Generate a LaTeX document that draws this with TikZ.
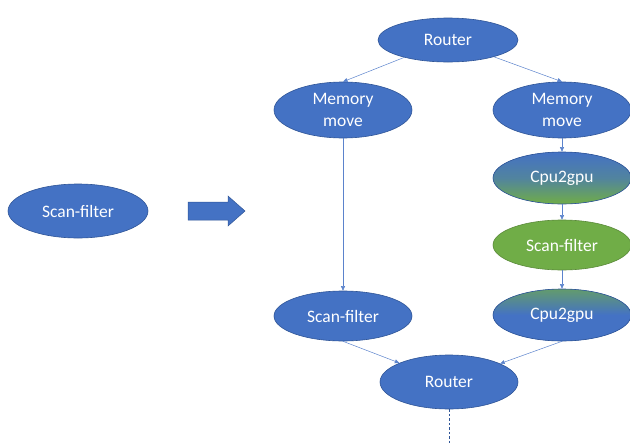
\documentclass[tikz,border=0pt]{standalone}
\usepackage{fontspec}
\setmainfont{Carlito}
\usetikzlibrary{shapes.geometric,arrows.meta}
\definecolor{offblue}{HTML}{4472C4}
\definecolor{offline}{HTML}{2F5597}
\definecolor{offgreen}{HTML}{70AD47}
\definecolor{edgeblue}{HTML}{5B83CC}
\begin{document}
\begin{tikzpicture}[x=1pt,y=-1pt,
  op/.style={ellipse,draw=offline,line width=0.6pt,fill=offblue,text=white,
    minimum width=138pt,minimum height=52pt,inner sep=0pt,align=center,
    font=\fontsize{17.5}{22}\selectfont},
  gop/.style={op,fill=offgreen,draw=offgreen!80!black},
  gdown/.style={op,top color=offblue,bottom color=offgreen,middle color=offblue!70!offgreen},
  gup/.style={op,top color=offgreen!70!offblue,bottom color=offblue,middle color=offblue},
  conn/.style={draw=edgeblue,line width=0.5pt,-{Triangle[length=4.5pt,width=4pt]}}]
\useasboundingbox (0,0) rectangle (630,445);
\node[op,minimum width=140pt,minimum height=44pt] (r1) at (448,40) {Router};
\node[op,minimum height=56pt] (m1) at (343,110) {Memory\\move};
\node[op,minimum height=56pt] (m2) at (562,110) {Memory\\move};
\node[gdown] (c1) at (562,178) {Cpu2gpu};
\node[gop,minimum height=50pt] (s2) at (562,245) {Scan-filter};
\node[gup] (c2) at (562,315) {Cpu2gpu};
\node[op,minimum height=50pt] (s1) at (343,316) {Scan-filter};
\node[op,minimum height=54pt] (r2) at (449,382) {Router};
\node[op,minimum width=140pt,minimum height=54pt] (s0) at (78,211) {Scan-filter};
\coordinate (end) at (449,445);
\fill[offblue,draw=offline,line width=0.5pt] (188,202) -- (228,202) -- (228,196) -- (245,211) -- (228,226) -- (228,220) -- (188,220) -- cycle;
\draw[conn] (r1) -- (m1.north);
\draw[conn] (r1) -- (m2.north);
\draw[conn] (m1) -- (s1);
\draw[conn] (m2) -- (c1);
\draw[conn] (c1) -- (s2);
\draw[conn] (s2) -- (c2);
\draw[conn] (s1.south) -- (r2);
\draw[conn] (c2.south) -- (r2);
\draw[draw=offline,line width=0.8pt,dash pattern=on 2.5pt off 2pt] (r2) -- (end);
\end{tikzpicture}
\end{document}
